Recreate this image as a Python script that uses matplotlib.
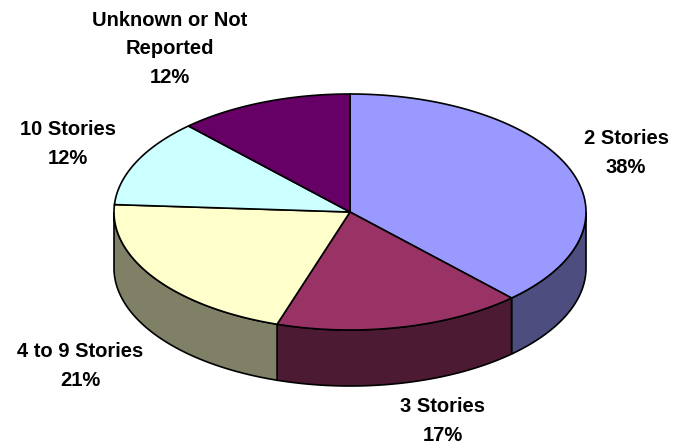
import numpy as np
import matplotlib.pyplot as plt
from matplotlib.patches import Polygon
from matplotlib import colors as mcolors

labels = ['2 Stories', '3 Stories', '4 to 9 Stories', '10 Stories', 'Unknown or Not\nReported']
shares = [38, 17, 21, 12, 12]
top_colors = ['#9999FF', '#993366', '#FFFFCC', '#CCFFFF', '#660066']

# layout, in pixels
cx, cy = 350, 212
rx, ry = 236, 118
depth = 56
label_xy = [(626, 153), (443, 421), (80, 366), (68, 144), (170, 49)]

plt.rcParams['font.family'] = ['Liberation Sans', 'DejaVu Sans']

fig = plt.figure(figsize=(6.78, 4.48), dpi=100)
ax = fig.add_axes([0, 0, 1, 1])
ax.set_xlim(0, 678)
ax.set_ylim(448, 0)
ax.axis('off')


def rim(a0, a1, dz=0, n=150):
    t = np.radians(np.linspace(a0, a1, n))
    return np.column_stack([cx + rx * np.cos(t), cy - ry * np.sin(t) + dz])


fracs = np.array(shares) / sum(shares)
ends = 90 - np.cumsum(fracs) * 360
starts = np.r_[90, ends[:-1]]

# side walls (front half only)
for a0, a1, c in zip(starts, ends, top_colors):
    for off in (0, -360, 360):
        lo = max(a1 + off, -180)
        hi = min(a0 + off, 0)
        if hi > lo:
            side_c = np.array(mcolors.to_rgb(c)) * 0.5
            pts = np.vstack([rim(lo, hi), rim(hi, lo, depth)])
            ax.add_patch(Polygon(pts, closed=True, fc=side_c, ec='black', lw=1.2))

# top faces
for a0, a1, c in zip(starts, ends, top_colors):
    pts = np.vstack([[cx, cy], rim(a0, a1)])
    ax.add_patch(Polygon(pts, closed=True, fc=c, ec='black', lw=1.2))

for lab, s, (x, y) in zip(labels, shares, label_xy):
    ax.text(x, y, f'{lab}\n{s}%', ha='center', va='center', multialignment='center',
            fontsize=14.5, fontweight='bold', linespacing=1.65)

fig.savefig('out.png', dpi=100)
